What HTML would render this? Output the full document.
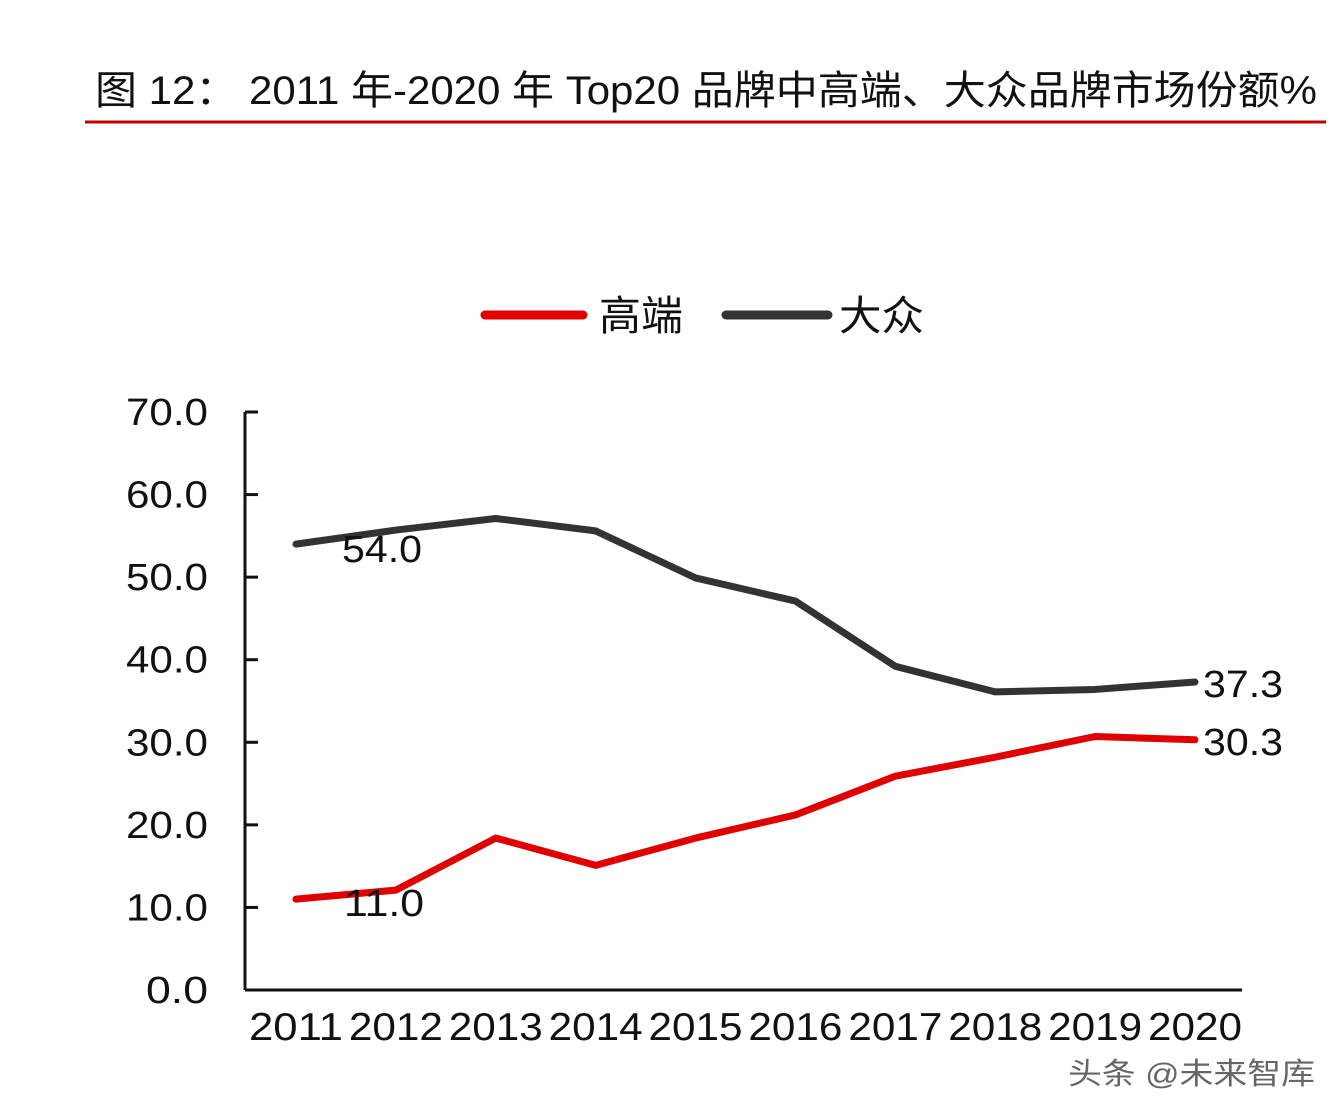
<!DOCTYPE html>
<html><head><meta charset="utf-8"><style>
body{margin:0;background:#fff;}
svg{display:block;font-family:"Liberation Sans","Noto Sans CJK SC",sans-serif;}
</style></head><body>
<svg id="chart" width="1344" height="1120" viewBox="0 0 1344 1120">
<text x="95" y="104" font-size="40" fill="#111" textLength="1222" lengthAdjust="spacingAndGlyphs">图 12：  2011 年-2020 年 Top20 品牌中高端、大众品牌市场份额%</text>
<line x1="85" y1="122" x2="1326" y2="122" stroke="#c00000" stroke-width="3"/>
<g>
<line x1="485" y1="315" x2="583" y2="315" stroke="#e00000" stroke-width="9" stroke-linecap="round"/>
<text x="599" y="330" font-size="41" fill="#111" textLength="84" lengthAdjust="spacingAndGlyphs">高端</text>
<line x1="726" y1="315" x2="828" y2="315" stroke="#333" stroke-width="9" stroke-linecap="round"/>
<text x="839" y="330" font-size="41" fill="#111" textLength="85" lengthAdjust="spacingAndGlyphs">大众</text>
</g>
<g id="axes"></g>
<g id="series"></g>
<text x="1068" y="1084" font-size="30" fill="#666" textLength="247" lengthAdjust="spacingAndGlyphs">头条 @未来智库</text>
</svg>
<script>
const years = ['2011','2012','2013','2014','2015','2016','2017','2018','2019','2020'];
const premium = [11.0, 12.1, 18.4, 15.1, 18.4, 21.2, 25.9, 28.2, 30.7, 30.3];
const mass = [54.0, 55.7, 57.1, 55.6, 49.9, 47.1, 39.2, 36.1, 36.4, 37.3];
const yTicks = [0,10,20,30,40,50,60,70];
const NS='http://www.w3.org/2000/svg';
const x0=296, xStep=(1195-296)/9, yBase=990, yTop=412, yMax=70;
const xs=i=>x0+i*xStep;
const ys=v=>yBase-(v/yMax)*(yBase-yTop);
function mk(tag,attrs,parent){const e=document.createElementNS(NS,tag);for(const k in attrs)e.setAttribute(k,attrs[k]);parent.appendChild(e);return e;}
const axes=document.getElementById('axes');
const ya=mk('line',{x1:245,y1:yTop,x2:245,y2:yBase,stroke:'#111','stroke-width':3},axes);


const xa=mk('line',{x1:245,y1:yBase,x2:1242,y2:yBase,stroke:'#111','stroke-width':3},axes);


yTicks.forEach(v=>{
  const t=mk('line',{x1:245,y1:ys(v),x2:258,y2:ys(v),stroke:'#111','stroke-width':3},axes);
  
  
  const s=v.toFixed(1);
  const w=s.length===4?82:62;
  const l=mk('text',{x:208-w,y:ys(v)+13,'font-size':38,fill:'#111',textLength:w,lengthAdjust:'spacingAndGlyphs'},axes);
  l.textContent=s;
  
  
});
years.forEach((y,i)=>{
  const l=mk('text',{x:xs(i)-47,y:1040,'font-size':39,fill:'#111',textLength:94,lengthAdjust:'spacingAndGlyphs'},axes);
  l.textContent=y;
  
  
});
const series=document.getElementById('series');
function line(data,color,name){
  const p=mk('polyline',{points:data.map((v,i)=>xs(i)+','+ys(v)).join(' '),fill:'none',stroke:color,'stroke-width':7,'stroke-linejoin':'round','stroke-linecap':'round'},series);
  
  
}
line(mass,'#333','line-mass');
line(premium,'#e00000','line-premium');
function lab(txt,x,y,name){
  const t=mk('text',{x:x,y:y,'font-size':38,fill:'#111',textLength:80,lengthAdjust:'spacingAndGlyphs'},series);
  t.textContent=txt;
  
  
}
lab(mass[0].toFixed(1),xs(0)+46,ys(mass[0])+18,'label-mass-2011');
lab(premium[0].toFixed(1),xs(0)+48,ys(premium[0])+17,'label-premium-2011');
lab(mass[9].toFixed(1),xs(9)+8,ys(mass[9])+15,'label-mass-2020');
lab(premium[9].toFixed(1),xs(9)+8,ys(premium[9])+15,'label-premium-2020');
</script>
</body></html>
